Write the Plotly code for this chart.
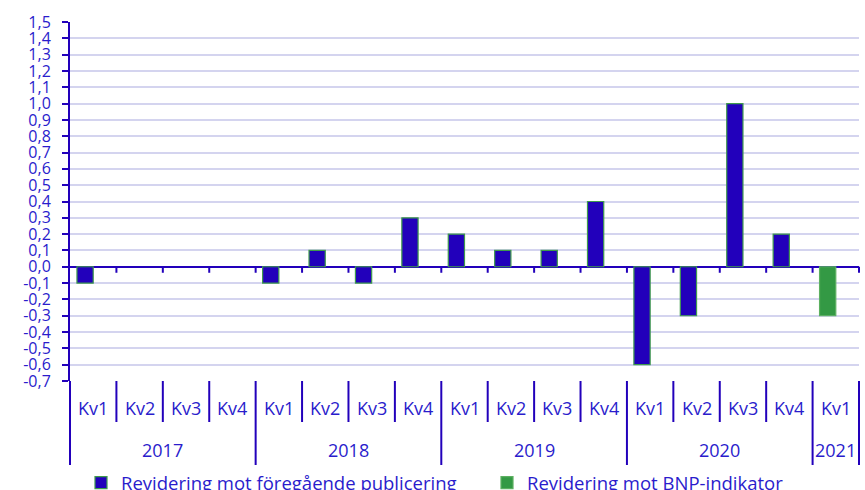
import plotly.graph_objects as go

# ---- data ----
years = ["2017", "2018", "2019", "2020", "2021"]
quarters_per_year = [4, 4, 4, 4, 1]
quarter_labels = ["Kv1", "Kv2", "Kv3", "Kv4"]

# Revidering mot föregående publicering (2017 Kv1 .. 2020 Kv4)
rev_prev = [-0.1, 0.0, 0.0, 0.0,
            -0.1, 0.1, -0.1, 0.3,
            0.2, 0.1, 0.1, 0.4,
            -0.6, -0.3, 1.0, 0.2,
            None]
# Revidering mot BNP-indikator (2021 Kv1)
rev_bnp = [None] * 16 + [-0.3]

series_names = ["Revidering mot föregående publicering", "Revidering mot BNP-indikator"]

y_ticks = [round(-0.7 + 0.1 * i, 1) for i in range(23)]
y_ticktext = [f"{v:.1f}".replace(".", ",") for v in y_ticks]

# ---- styles ----
BLUE = "#2200bb"
TEXT = "#2a1ccc"
GREEN = "#339944"
FONT = "Open Sans"

W, H = 865, 490
ML, MR, MT, MB = 70, 6, 22, 109
PH = H - MT - MB
PW = W - ML - MR

cats = []
for y, n in zip(years, quarters_per_year):
    for q in range(n):
        cats.append((y, quarter_labels[q]))
N = len(cats)
xs = list(range(N))

fig = go.Figure()
fig.add_trace(go.Bar(
    x=xs, y=rev_prev, name=series_names[0], legend="legend",
    width=0.35, offset=-0.35,
    marker=dict(color=BLUE,
                line=dict(color="#3f9a4c",
                          width=[0 if (v is None or v == 0) else 1.2 for v in rev_prev])),
))
fig.add_trace(go.Bar(
    x=xs, y=rev_bnp, name=series_names[1], legend="legend2",
    width=0.35, offset=-0.35,
    marker=dict(color=GREEN, line=dict(color="#5cb060", width=1.2)),
))

def xp(v):
    return (v + 0.5) / N

def ypix(px_below):
    return -px_below / PH

def xpix(px):
    return (px - ML) / PW

shapes = []
boundaries_year = [0]
acc = 0
for n in quarters_per_year:
    acc += n
    boundaries_year.append(acc)
for b in range(N + 1):
    long = b in boundaries_year
    shapes.append(dict(type="line", xref="paper", yref="paper",
                       x0=xp(b - 0.5), x1=xp(b - 0.5),
                       y0=0, y1=ypix(84 if long else 41),
                       line=dict(color=BLUE, width=2)))
for b in range(1, N + 1):
    shapes.append(dict(type="line", xref="paper", yref="y",
                       x0=xp(b - 0.5), x1=xp(b - 0.5),
                       y0=0, y1=-6 / (PH / 2.2),
                       line=dict(color=BLUE, width=2)))

annotations = []
for i, (y, q) in enumerate(cats):
    annotations.append(dict(x=i, y=ypix(27), xref="x", yref="paper", text=q,
                            showarrow=False, font=dict(family=FONT, size=18, color=TEXT),
                            xanchor="center", yanchor="middle"))
start = 0
for y, n in zip(years, quarters_per_year):
    annotations.append(dict(x=start + (n - 1) / 2, y=ypix(69), xref="x", yref="paper", text=y,
                            showarrow=False, font=dict(family=FONT, size=18, color=TEXT),
                            xanchor="center", yanchor="middle"))
    start += n

legend_common = dict(orientation="h", xanchor="left", y=ypix(102), yanchor="middle",
                     font=dict(family=FONT, size=18.5, color=TEXT), bgcolor="rgba(0,0,0,0)")

fig.update_layout(
    width=W, height=H,
    margin=dict(l=ML, r=MR, t=MT, b=MB, autoexpand=False),
    plot_bgcolor="white", paper_bgcolor="white",
    barmode="overlay",
    showlegend=True,
    legend=dict(x=xpix(81), **legend_common),
    legend2=dict(x=xpix(487), **legend_common),
    shapes=shapes,
    annotations=annotations,
    xaxis=dict(range=[-0.5, N - 0.5], showticklabels=False, showgrid=False,
               zeroline=False, showline=False, fixedrange=True),
    yaxis=dict(range=[-0.7, 1.5], tickvals=y_ticks, ticktext=y_ticktext,
               showgrid=True, gridcolor="#d4d4ef", gridwidth=2,
               zeroline=True, zerolinecolor=BLUE, zerolinewidth=2,
               showline=True, linecolor=BLUE, linewidth=2,
               ticks="outside", ticklen=6, tickwidth=2, tickcolor=BLUE,
               ticklabelstandoff=8,
               tickfont=dict(family=FONT, size=16, color=TEXT)),
)

fig.write_html("out.html", config={"displayModeBar": False},
               post_script="document.body.style.margin='0';document.body.style.overflow='hidden';")
